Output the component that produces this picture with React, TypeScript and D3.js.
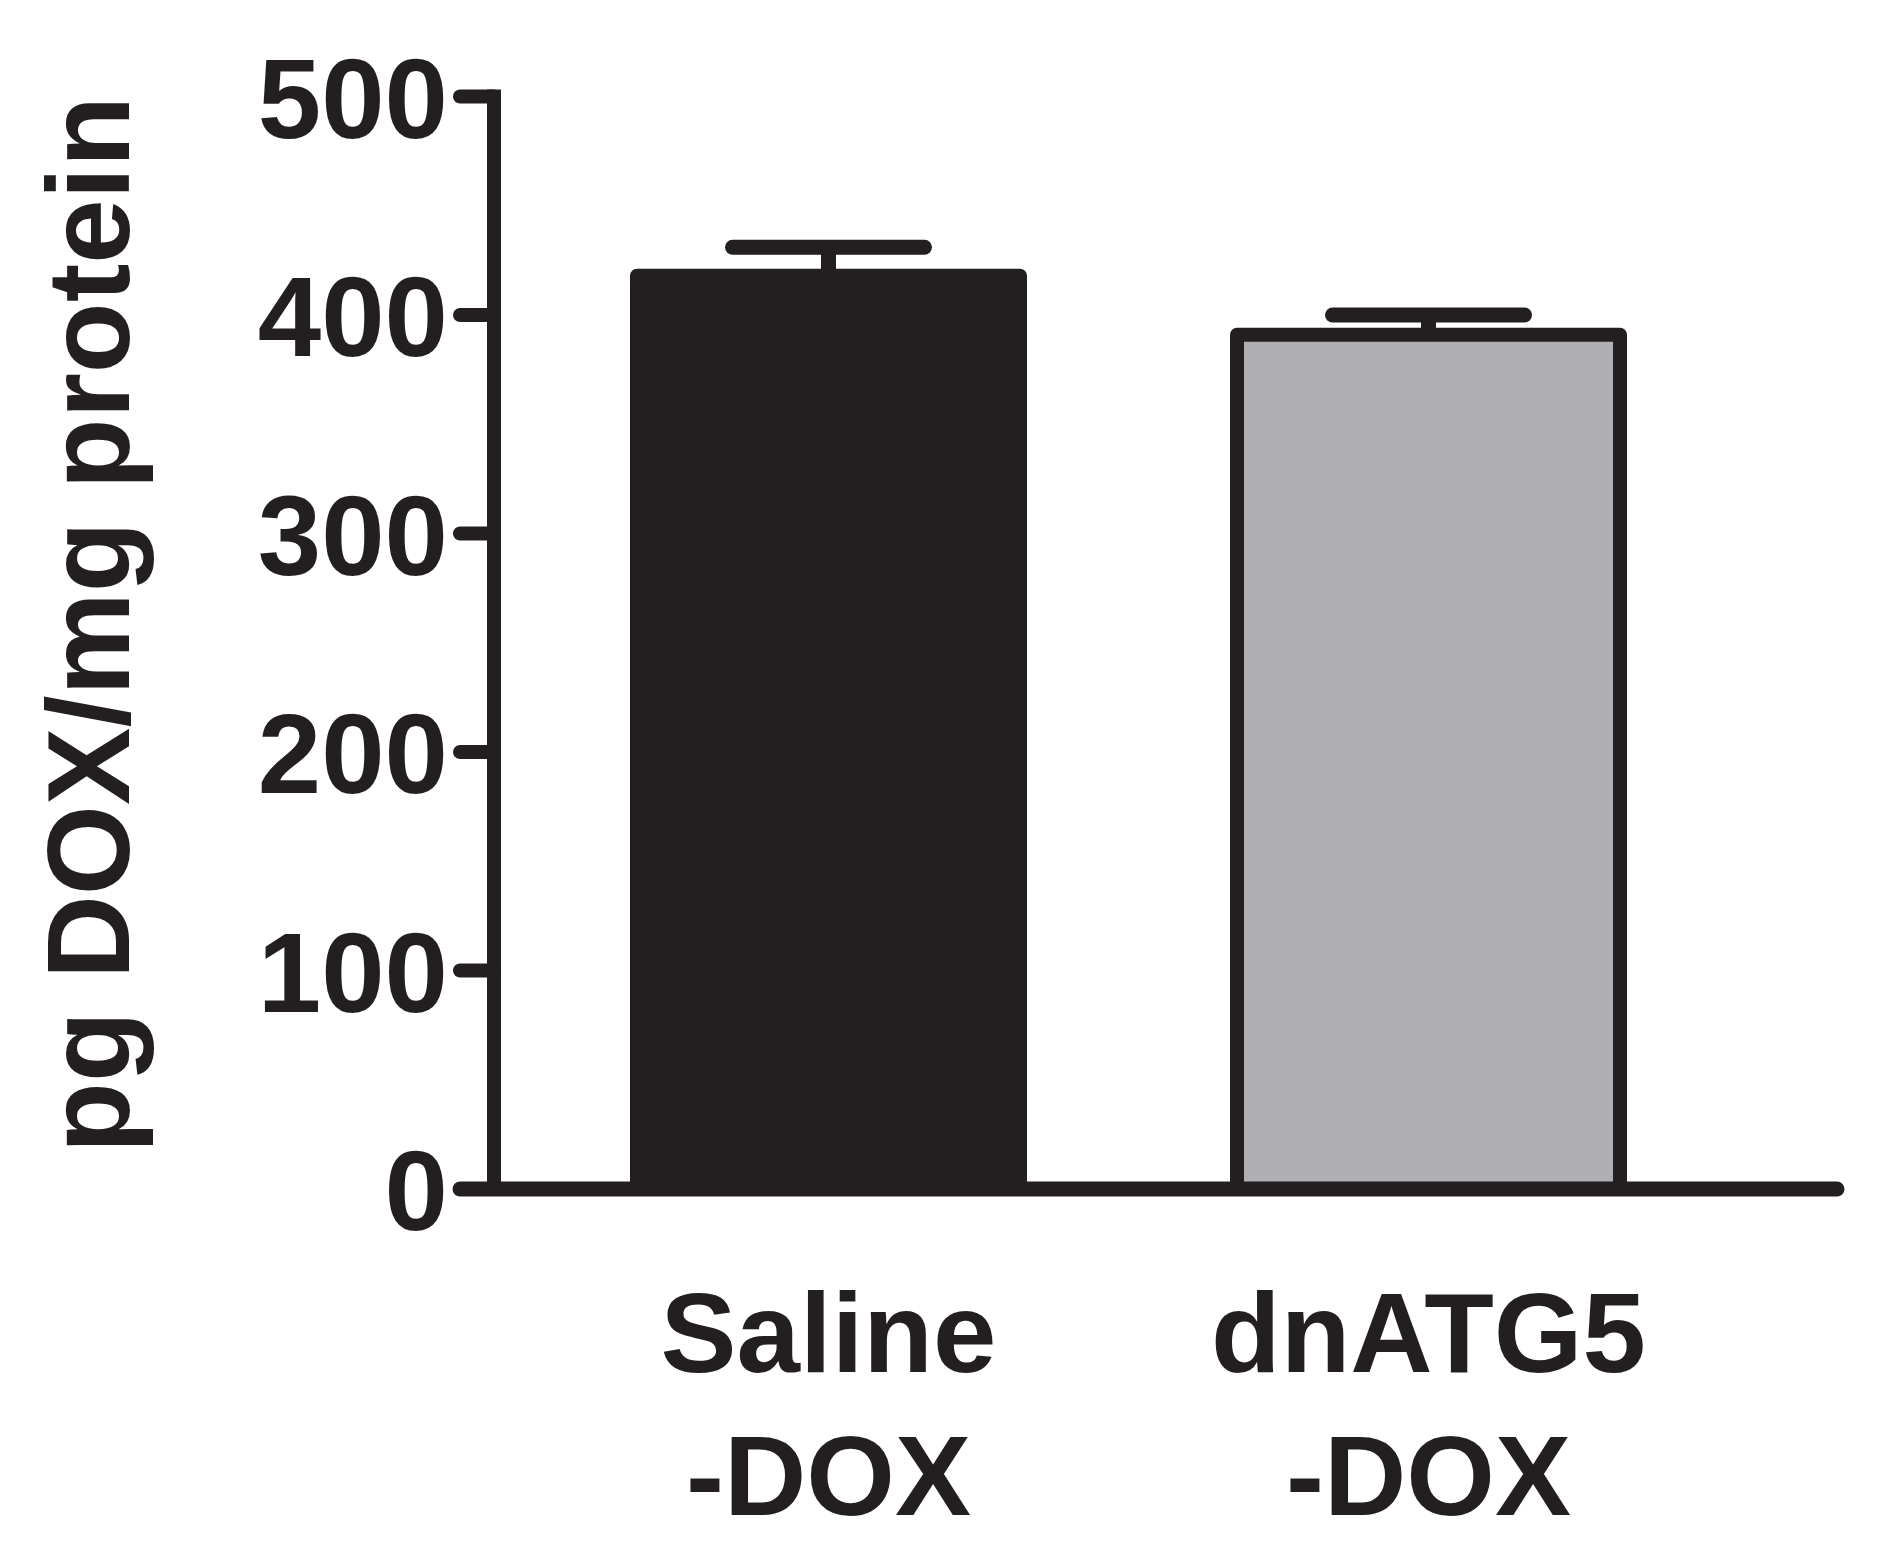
import React from "react";
import * as d3 from "d3";

const categories = ["Saline|-DOX", "dnATG5|-DOX"];
const means = [418, 391];
const sems = [13, 9];
const fills = ["#231f20", "#b0b0b4"];
const yTicks = [0, 100, 200, 300, 400, 500];
const yLabel = "pg DOX/mg protein";

const W = 1892;
const H = 1564;
const INK = "#231f20";
const textStyle: React.CSSProperties = {
  fontFamily: '"Liberation Sans", Arial, sans-serif',
  fontWeight: 700,
};

export default function App() {
  const y = d3.scaleLinear().domain([0, 500]).range([1189, 96.5]);
  const x = d3
    .scaleBand<string>()
    .domain(categories)
    .range([494, 1763])
    .paddingInner(0.3617)
    .paddingOuter(0.2383);

  const axisX = 494;
  const sw = 14;

  return (
    <svg
      width={W}
      height={H}
      viewBox={`0 0 ${W} ${H}`}
      style={{ position: "absolute", left: 0, top: 0, display: "block", background: "#fff" }}
    >
      <rect x={0} y={0} width={W} height={H} fill="#fff" />
      {categories.map((c, i) => {
        const x0 = x(c)!;
        const bw = x.bandwidth();
        const cx = x0 + bw / 2;
        const top = y(means[i]);
        const capY = y(means[i] + sems[i]);
        return (
          <g key={c}>
            <line x1={cx} x2={cx} y1={top} y2={capY} stroke={INK} strokeWidth={15} />
            <line
              x1={cx - 96}
              x2={cx + 96}
              y1={capY}
              y2={capY}
              stroke={INK}
              strokeWidth={15}
              strokeLinecap="round"
            />
            <rect
              x={x0}
              y={top}
              width={bw}
              height={y(0) - top}
              fill={fills[i]}
              stroke={INK}
              strokeWidth={sw}
              strokeLinejoin="round"
            />
          </g>
        );
      })}
      <line x1={axisX} x2={axisX} y1={y(500) - 7} y2={y(0)} stroke={INK} strokeWidth={sw} />
      {yTicks.map((t) => (
        <g key={t}>
          <line
            x1={460}
            x2={axisX}
            y1={y(t)}
            y2={y(t)}
            stroke={INK}
            strokeWidth={sw}
            strokeLinecap="round"
          />
          <text
            x={448}
            y={y(t) + 41}
            textAnchor="end"
            style={{ ...textStyle, fontSize: 114 }}
            fill={INK}
          >
            {t}
          </text>
        </g>
      ))}
      <line
        x1={460}
        x2={1837}
        y1={y(0)}
        y2={y(0)}
        stroke={INK}
        strokeWidth={15}
        strokeLinecap="round"
      />
      {categories.map((c) => {
        const cx = x(c)! + x.bandwidth() / 2;
        const lines = c.split("|");
        return (
          <text
            key={c}
            textAnchor="middle"
            style={{ ...textStyle, fontSize: 114 }}
            fill={INK}
          >
            {lines.map((l, j) => (
              <tspan key={j} x={cx} y={1372 + j * 143}>
                {l}
              </tspan>
            ))}
          </text>
        );
      })}
      <text
        transform={`translate(129, 624.5) rotate(-90)`}
        textAnchor="middle"
        style={{ ...textStyle, fontSize: 116 }}
        fill={INK}
      >
        {yLabel}
      </text>
    </svg>
  );
}
